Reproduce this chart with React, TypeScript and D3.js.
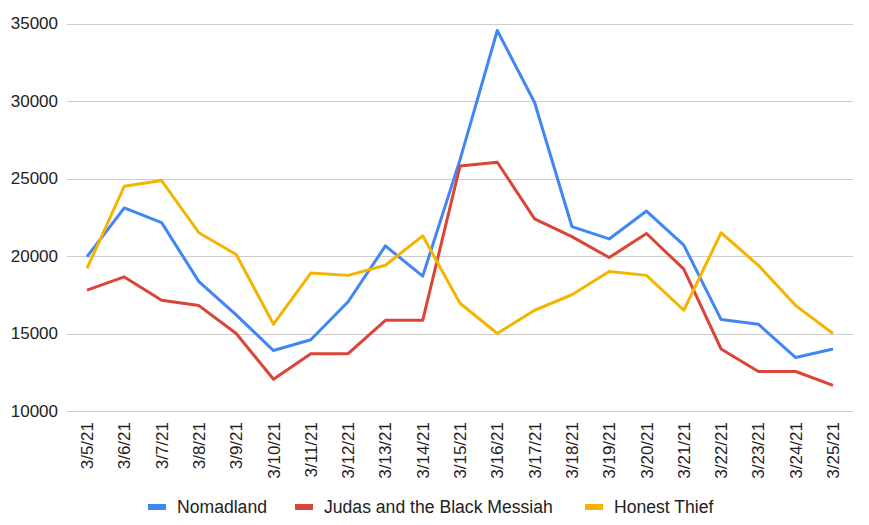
import React from "react";
import * as d3 from "d3";

const dates = ["3/5/21","3/6/21","3/7/21","3/8/21","3/9/21","3/10/21","3/11/21","3/12/21","3/13/21","3/14/21","3/15/21","3/16/21","3/17/21","3/18/21","3/19/21","3/20/21","3/21/21","3/22/21","3/23/21","3/24/21","3/25/21"];
const nomadland = [19950,23100,22150,18350,16200,13900,14600,17050,20650,18700,26200,34550,29900,21900,21100,22900,20700,15900,15600,13450,14000];
const judas = [17800,18650,17150,16800,15000,12050,13700,13700,15850,15850,25800,26050,22400,21250,19900,21450,19150,14000,12550,12550,11650];
const honestThief = [19200,24500,24870,21500,20100,15600,18900,18750,19400,21300,16950,15000,16500,17500,19000,18750,16500,21500,19400,16800,15000];
const yTicks = [10000,15000,20000,25000,30000,35000];
const seriesNames = ["Nomadland","Judas and the Black Messiah","Honest Thief"];
const seriesColors = ["#4285F4","#DB4437","#F4B400"];

const W = 869, H = 525;
const FONT = "'Liberation Sans', Arial, sans-serif";

export default function App() {
  const x = d3.scalePoint<string>().domain(dates).range([87, 833]);
  const y = d3.scaleLinear().domain([10000, 35000]).range([411, 23.5]);
  const line = d3.line<number>().x((_, i) => x(dates[i]) as number).y(d => y(d));
  const all = [nomadland, judas, honestThief];
  const legendX = [148, 295, 585];
  return (
    <svg width={W} height={H} style={{ position: "absolute", left: 0, top: 0, background: "#fff" }} fontFamily={FONT}>
      <rect width={W} height={H} fill="#fff" />
      {yTicks.map(t => (
        <g key={t}>
          <line x1={67} x2={853} y1={Math.round(y(t)) + 0.5} y2={Math.round(y(t)) + 0.5} stroke="#cccccc" strokeWidth={1} />
          <text x={58} y={y(t)} dy="0.35em" textAnchor="end" fontSize={17} fill="#222">{t}</text>
        </g>
      ))}
      {all.map((s, i) => (
        <path key={i} d={line(s) || ""} fill="none" stroke={seriesColors[i]} strokeWidth={3} strokeLinejoin="round" />
      ))}
      {dates.map(d => (
        <text key={d} transform={`translate(${(x(d) as number) + 6},422) rotate(-90)`} textAnchor="end" fontSize={17} fill="#222">{d}</text>
      ))}
      {seriesNames.map((n, i) => (
        <g key={n}>
          <rect x={legendX[i]} y={504} width={18} height={6} fill={seriesColors[i]} />
          <text x={legendX[i] + 29} y={507} dy="0.35em" fontSize={17.6} fill="#222">{n}</text>
        </g>
      ))}
    </svg>
  );
}
